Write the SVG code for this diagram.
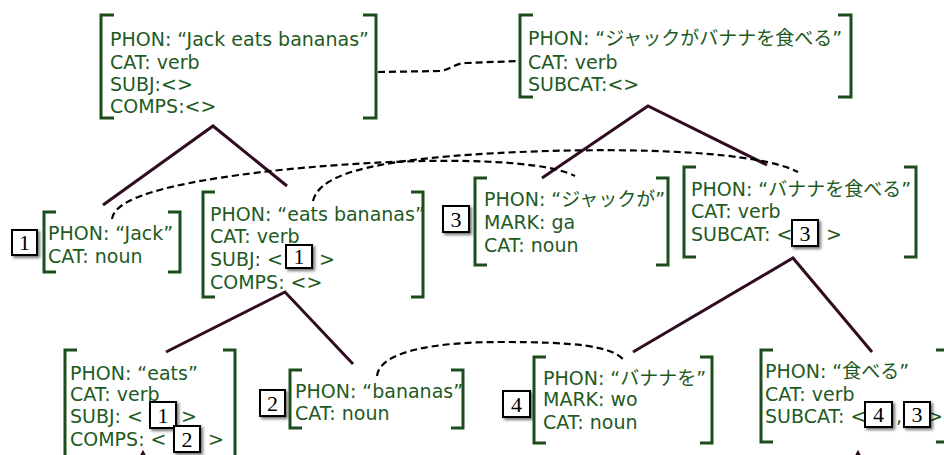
<svg xmlns="http://www.w3.org/2000/svg" width="944" height="455" viewBox="0 0 944 455">
<defs>
<filter id="sh" x="-30%" y="-30%" width="170%" height="170%">
<feDropShadow dx="2" dy="2" stdDeviation="1.5" flood-color="#000" flood-opacity="0.55"/>
</filter>
<style>
.t{font-family:"DejaVu Sans","Noto Sans CJK JP",sans-serif;font-size:19px;fill:#1f5a1f}
.jp{font-family:"Noto Sans CJK JP",sans-serif;font-size:19px}
.br{fill:none;stroke:#1c4e1c;stroke-width:3}
.tree{fill:none;stroke:#300c22;stroke-width:3}
.dash{fill:none;stroke:#000;stroke-width:2.2;stroke-dasharray:7 4}
.bx{fill:#fff;stroke:#000;stroke-width:2;filter:url(#sh)}
.num{font-family:"Liberation Serif",serif;font-size:22px;fill:#000;text-anchor:middle}
</style>
</defs>

<g id="connectors">
<path class="dash" d="M378,72 L440,71 C450,70 455,63 466,63 L519,61"/>
<path class="tree" d="M103,205 L213,126 L287,186"/>
<path class="tree" d="M542,178 L648,106 L767,165"/>
<path class="tree" d="M166,352 L285,292 L353,364"/>
<path class="tree" d="M633,352 L793,258 L872,352"/>
<path class="tree" stroke-width="2" d="M141,457 L143,453 L145,457"/>
<path class="tree" stroke-width="2" d="M856,457 L858,453 L860,457"/>
<path class="dash" d="M112,219 C114,200 160,183 280,170 C420,156 540,158 575,176"/>
<path class="dash" d="M313,201 C320,172 380,158 520,152 C640,147 760,152 798,172"/>
<path class="dash" d="M377,376 C380,350 440,342 500,342 C570,342 615,345 625,362"/>
</g>

<g id="n-top-en">
<path class="br" d="M114,15 H101 V118 H114"/>
<path class="br" d="M363,15 H376 V118 H363"/>
<text class="t"><tspan x="110" y="46">PHON: “Jack eats bananas”</tspan><tspan x="110" y="69">CAT: verb</tspan><tspan x="110" y="91">SUBJ:&lt;&gt;</tspan><tspan x="110" y="113">COMPS:&lt;&gt;</tspan></text>
</g>

<g id="n-top-jp">
<path class="br" d="M533,15 H520 V97 H533"/>
<path class="br" d="M838,15 H851 V97 H838"/>
<text class="t"><tspan x="528" y="45">PHON: “<tspan class="jp">ジャックがバナナを食べる</tspan>”</tspan><tspan x="528" y="69">CAT: verb</tspan><tspan x="528" y="91">SUBCAT:&lt;&gt;</tspan></text>
</g>

<g id="n-jack">
<rect class="bx" x="12" y="230" width="25" height="25"/>
<text class="num" x="24.5" y="250">1</text>
<path class="br" d="M56,212 H44 V272 H56"/>
<path class="br" d="M168,212 H180 V272 H168"/>
<text class="t"><tspan x="48" y="240">PHON: “Jack”</tspan><tspan x="48" y="263">CAT: noun</tspan></text>
</g>

<g id="n-eats-bananas">
<path class="br" d="M215,192 H203 V297 H215"/>
<path class="br" d="M411,192 H423 V297 H411"/>
<text class="t"><tspan x="210" y="221">PHON: “eats bananas”</tspan><tspan x="210" y="243">CAT: verb</tspan><tspan x="210" y="266">SUBJ: &lt;</tspan><tspan x="319" y="266">&gt;</tspan><tspan x="210" y="289">COMPS: &lt;&gt;</tspan></text>
<rect class="bx" x="286" y="245" width="26" height="23"/>
<text class="num" x="299" y="264">1</text>
</g>

<g id="n-jack-ga">
<rect class="bx" x="443" y="206" width="26" height="26"/>
<text class="num" x="456" y="227">3</text>
<path class="br" d="M487,178 H475 V265 H487"/>
<path class="br" d="M656,178 H668 V265 H656"/>
<text class="t"><tspan x="484" y="206">PHON: “<tspan class="jp">ジャックが</tspan>”</tspan><tspan x="484" y="229">MARK: ga</tspan><tspan x="484" y="252">CAT: noun</tspan></text>
</g>

<g id="n-banana-taberu">
<path class="br" d="M696,167 H684 V257 H696"/>
<path class="br" d="M904,167 H916 V257 H904"/>
<text class="t"><tspan x="691" y="196">PHON: “<tspan class="jp">バナナを食べる</tspan>”</tspan><tspan x="691" y="218">CAT: verb</tspan><tspan x="691" y="241">SUBCAT: &lt;</tspan><tspan x="826" y="241">&gt;</tspan></text>
<rect class="bx" x="792" y="220" width="26" height="26"/>
<text class="num" x="805" y="241">3</text>
</g>

<g id="n-eats">
<path class="br" d="M77,350 H65 V460 H77"/>
<path class="br" d="M223,350 H235 V460 H223"/>
<text class="t"><tspan x="70" y="380">PHON: “eats”</tspan><tspan x="70" y="401">CAT: verb</tspan><tspan x="70" y="423">SUBJ: &lt;</tspan><tspan x="181" y="423">&gt;</tspan><tspan x="70" y="446">COMPS: &lt;</tspan><tspan x="208" y="446">&gt;</tspan></text>
<rect class="bx" x="150" y="402" width="26" height="26"/>
<text class="num" x="163" y="423">1</text>
<rect class="bx" x="174" y="426" width="26" height="26"/>
<text class="num" x="187" y="447">2</text>
</g>

<g id="n-bananas">
<rect class="bx" x="260" y="390" width="25" height="26"/>
<text class="num" x="272.5" y="411">2</text>
<path class="br" d="M302,370 H290 V428 H302"/>
<path class="br" d="M451,370 H463 V428 H451"/>
<text class="t"><tspan x="295" y="398">PHON: “bananas”</tspan><tspan x="295" y="420">CAT: noun</tspan></text>
</g>

<g id="n-banana-wo">
<rect class="bx" x="503" y="391" width="27" height="26"/>
<text class="num" x="516.5" y="412">4</text>
<path class="br" d="M546,357 H534 V443 H546"/>
<path class="br" d="M700,357 H712 V443 H700"/>
<text class="t"><tspan x="543" y="385">PHON: “<tspan class="jp">バナナを</tspan>”</tspan><tspan x="543" y="406">MARK: wo</tspan><tspan x="543" y="429">CAT: noun</tspan></text>
</g>

<g id="n-taberu">
<path class="br" d="M773,350 H761 V442 H773"/>
<path class="br" d="M936,350 H944 M936,442 H944"/>
<text class="t"><tspan x="765" y="378">PHON: “<tspan class="jp">食べる</tspan>”</tspan><tspan x="765" y="401">CAT: verb</tspan><tspan x="765" y="423">SUBCAT: &lt;</tspan><tspan x="896" y="423">,</tspan><tspan x="927" y="423">&gt;</tspan></text>
<rect class="bx" x="865" y="402" width="27" height="25"/>
<text class="num" x="878.5" y="422">4</text>
<rect class="bx" x="904" y="402" width="26" height="25"/>
<text class="num" x="917" y="422">3</text>
</g>
</svg>
